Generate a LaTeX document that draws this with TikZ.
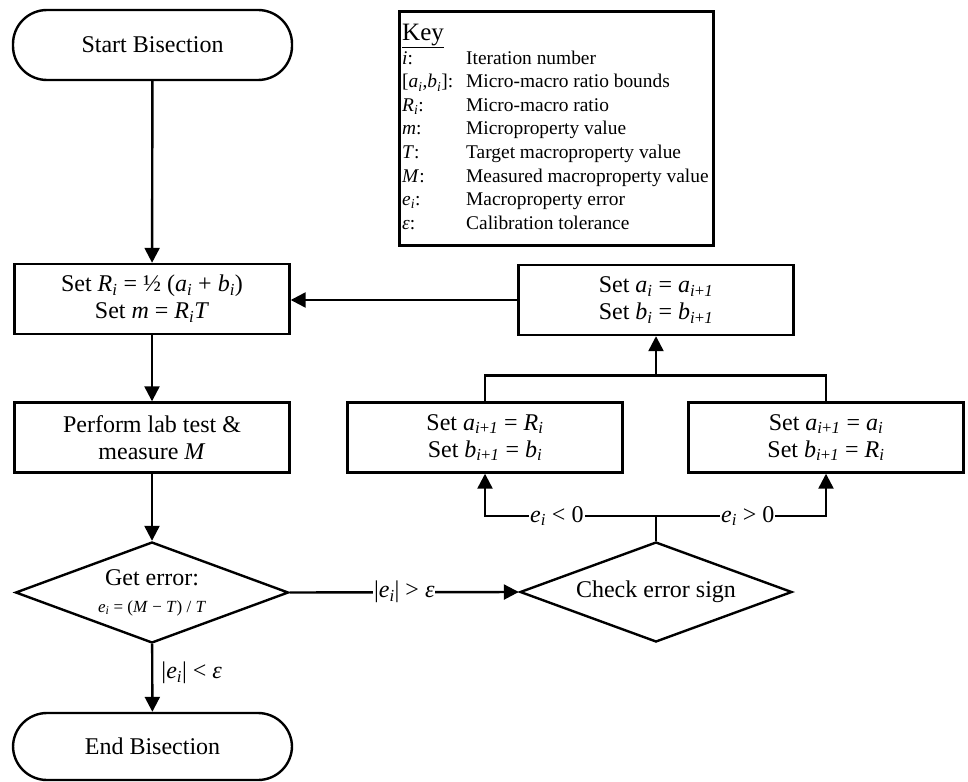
\documentclass[tikz,border=0pt]{standalone}
\usepackage{fontspec}
\setmainfont{Liberation Serif}
\usetikzlibrary{arrows.meta,shapes.geometric}
\newcommand{\vsub}[2]{\textit{#1}\textsubscript{#2}}
\newcommand{\myI}{\textit{i}}
\newcommand{\myIpo}{\textit{i}+\textit{1}}
\tikzset{
  base/.style={draw, line width=2.4pt, font=\fontsize{24}{27}\selectfont, align=center, inner sep=0pt},
  proc/.style={base, rectangle, minimum width=275pt, minimum height=70pt},
  term/.style={base, rectangle, rounded corners=34pt, minimum width=279pt, minimum height=70pt},
  dec/.style={base, diamond, aspect=2.7, minimum width=273pt, minimum height=101pt},
  conn/.style={line width=2.4pt, -{Triangle[length=15pt,width=15pt]}},
  plain/.style={line width=2.4pt},
  lbl/.style={fill=white, inner sep=1pt, font=\fontsize{24}{27}\selectfont},
  keytxt/.style={anchor=base west, inner sep=0pt, font=\fontsize{19.4}{23}\selectfont},
}
\begin{document}
\begin{tikzpicture}[x=1pt, y=-1pt]
\useasboundingbox[fill=white] (0,0) rectangle (968,781);

% main column
\node[term] (start) at (152.5,45) {Start Bisection};
\node[proc] (setR) at (152,299) {Set \vsub{R}{\myI} = ½ (\vsub{a}{\myI} + \vsub{b}{\myI})\\Set \textit{m} = \vsub{R}{\myI}\textit{T}};
\node[proc] (perf) at (152,437.5) {Perform lab test \&\\measure \textit{M}};
\node[dec] (err) at (152,592.5) {Get error:\\{\fontsize{17}{20}\selectfont \vsub{e}{\myI} = (\textit{M} − \textit{T}) / \textit{T}}};
\node[term, minimum height=67pt] (endb) at (152.5,746.5) {End Bisection};

% right part
\node[dec, minimum width=272pt, minimum height=100pt] (chk) at (656,592) {Check error sign};
\node[proc] (lbox) at (485,437.5) {Set \vsub{a}{\myIpo} = \vsub{R}{\myI}\\Set \vsub{b}{\myIpo} = \vsub{b}{\myI}};
\node[proc] (rbox) at (826,437.5) {Set \vsub{a}{\myIpo} = \vsub{a}{\myI}\\Set \vsub{b}{\myIpo} = \vsub{R}{\myI}};
\node[proc] (top) at (656,300) {Set \vsub{a}{\myI} = \vsub{a}{\myIpo}\\Set \vsub{b}{\myI} = \vsub{b}{\myIpo}};

% key
\node[draw, line width=3pt, rectangle, minimum width=314pt, minimum height=233pt, inner sep=0pt] (key) at (556,128.5) {};
\node[keytxt, font=\fontsize{25}{28}\selectfont] (khead) at (402,40.5) {\underline{Key}};
\node[keytxt] (k1) at (402,64.3) {\makebox[64pt][l]{\myI:}Iteration number};
\node[keytxt] (k2) at (402,87.9) {\makebox[64pt][l]{[\vsub{a}{\myI},\vsub{b}{\myI}]:}Micro-macro ratio bounds};
\node[keytxt] (k3) at (402,111.4) {\makebox[64pt][l]{\vsub{R}{\myI}:}Micro-macro ratio};
\node[keytxt] (k4) at (402,135.0) {\makebox[64pt][l]{\textit{m}:}Microproperty value};
\node[keytxt] (k5) at (402,158.6) {\makebox[64pt][l]{\textit{T}:}Target macroproperty value};
\node[keytxt] (k6) at (402,182.1) {\makebox[64pt][l]{\textit{M}:}Measured macroproperty value};
\node[keytxt] (k7) at (402,205.7) {\makebox[64pt][l]{\vsub{e}{\myI}:}Macroproperty error};
\node[keytxt] (k8) at (402,229.3) {\makebox[64pt][l]{\textit{ε}:}Calibration tolerance};

% connectors
\draw[conn] (start) -- (setR);
\draw[conn] (setR) -- (perf);
\draw[conn] (perf) -- (err);
\draw[conn] (err) -- node[pos=0.42, anchor=west, xshift=8pt, inner sep=0pt, font=\fontsize{24}{27}\selectfont] (lt) {|\vsub{e}{\myI}| < \textit{ε}} (endb);
\draw[conn] (err.east) -- node[lbl] (gt) {|\vsub{e}{\myI}| > \textit{ε}} (chk.west);

\coordinate (br) at (656,516);
\draw[plain] (chk.north) -- (br);
\draw[conn] (br) -| node[lbl, pos=0.29] (neg) {\vsub{e}{\myI} < 0} (lbox.south);
\draw[conn] (br) -| node[lbl, pos=0.27] (pos) {\vsub{e}{\myI} > 0} (rbox.south);

\coordinate (mg) at (656,377);
\draw[plain] (lbox.north) -- ++(0,-26) -| (rbox.north);
\draw[conn] (mg) -- (top.south);
\draw[conn] (top.west) -- (top.west -| setR.east);
\end{tikzpicture}
\end{document}
